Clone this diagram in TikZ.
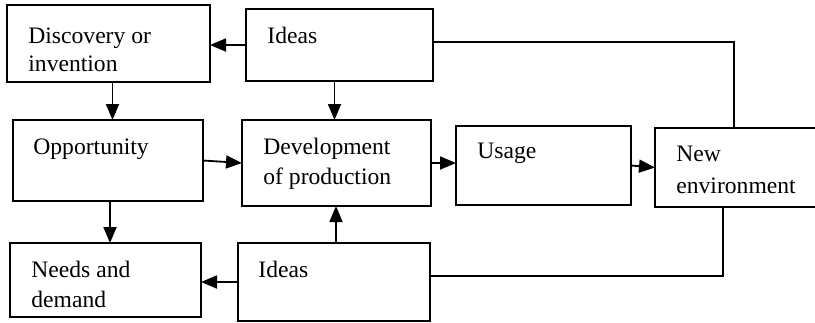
\documentclass[tikz,border=0pt]{standalone}
\usepackage{fontspec}
\setmainfont{Liberation Serif}
\usetikzlibrary{arrows.meta}
\begin{document}
\begin{tikzpicture}[x=0.5pt,y=-0.5pt,
  box/.style={draw,line width=0.9pt,inner sep=0pt,outer sep=0pt},
  lbl/.style={anchor=base west,inner sep=0pt,font=\fontsize{11.8pt}{14pt}\selectfont},
  arr/.style={line width=0.9pt,-{Triangle[length=8pt,width=6.5pt]}},
  link/.style={line width=0.9pt}]
\useasboundingbox (0,0) rectangle (815,322);
% boxes
\node[box,minimum width=101.5pt,minimum height=38.5pt] (disc) at (108.5,43.5) {};
\node[box,minimum width=93.5pt,minimum height=36pt] (ideasT) at (339.5,45) {};
\node[box,minimum width=95pt,minimum height=40.5pt] (opp) at (108,160.5) {};
\node[box,minimum width=94.5pt,minimum height=43pt] (dev) at (336.5,163) {};
\node[box,minimum width=87.5pt,minimum height=39.5pt] (usage) at (543.5,165.5) {};
\node[box,minimum width=81.5pt,minimum height=39.5pt] (newenv) at (736.5,167.5) {};
\node[box,minimum width=95.5pt,minimum height=37pt] (needs) at (105.5,280) {};
\node[box,minimum width=96pt,minimum height=39pt] (ideasB) at (334,282) {};
% labels
\node[lbl] (t1) at (28,43) {Discovery or};
\node[lbl] (t2) at (28,71) {invention};
\node[lbl] (t3) at (267,43) {Ideas};
\node[lbl] (t4) at (33,154) {Opportunity};
\node[lbl] (t5) at (263,154) {Development};
\node[lbl] (t6) at (263,184) {of production};
\node[lbl] (t7) at (477,158) {Usage};
\node[lbl] (t8) at (676,161) {New};
\node[lbl] (t9) at (676,193) {environment};
\node[lbl] (t10) at (31,277) {Needs and};
\node[lbl] (t11) at (31,307) {demand};
\node[lbl] (t12) at (258,277) {Ideas};
% arrows
\draw[arr] (ideasT.west) -- (ideasT.west -| disc.east);
\draw[arr] ([xshift=2pt]disc.south) -- ([xshift=2pt]disc.south |- opp.north);
\draw[arr] ([xshift=-1pt]dev.north |- ideasT.south) -- ([xshift=-1pt]dev.north);
\draw[arr] (opp.east) -- (dev.west);
\draw[arr] (dev.east) -- (dev.east -| usage.west);
\draw[arr] (usage.east) -- (newenv.west);
\draw[arr] ([xshift=1pt]opp.south) -- ([xshift=1pt]opp.south |- needs.north);
\draw[arr] ([xshift=1pt]ideasB.north) -- ([xshift=1pt]ideasB.north |- dev.south);
\draw[arr] (ideasB.west) -- (ideasB.west -| needs.east);
% feedback links
\draw[link] ([yshift=1.5pt]ideasT.east) -| ([xshift=-1.25pt]newenv.north);
\draw[link] ([xshift=-6.75pt]newenv.south) |- ([yshift=3pt]ideasB.east);
\end{tikzpicture}
\end{document}
